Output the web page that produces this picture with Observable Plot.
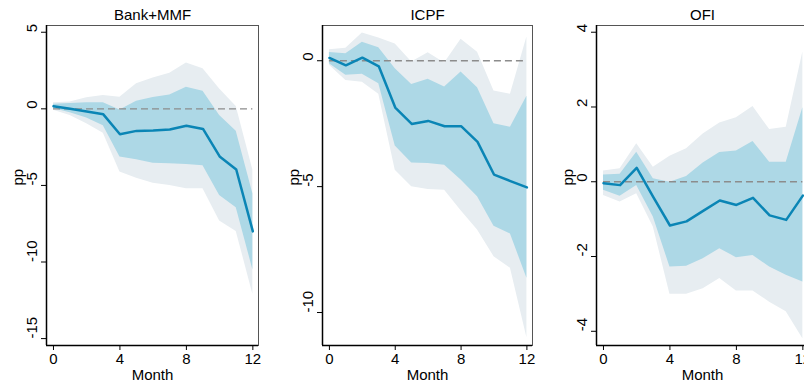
<!DOCTYPE html>
<html>
<head>
<meta charset="utf-8">
<script src="https://cdn.jsdelivr.net/npm/d3@7"></script>
<script src="https://cdn.jsdelivr.net/npm/@observablehq/plot@0.6"></script>
<style>
  html, body { margin: 0; padding: 0; background: #fff; }
  #wrap { position: relative; width: 804px; height: 387px; overflow: hidden; background: #fff; }
  .panel { position: absolute; top: 0; width: 275px; height: 387px; }
  .panel svg { max-width: none !important; display: block; }
</style>
</head>
<body>
<div id="wrap"></div>
<script>
// ---- data ----
const months = [0, 1, 2, 3, 4, 5, 6, 7, 8, 9, 10, 11, 12];
const xTicks = [0, 4, 8, 12];

const panelTitles = ["Bank+MMF", "ICPF", "OFI"];

// Bank+MMF
const bankIrf  = [0.17, 0.0, -0.18, -0.36, -1.66, -1.44, -1.41, -1.35, -1.11, -1.31, -3.11, -3.96, -8.0];
const bankHi68 = [0.3, 0.35, 0.4, 0.4, -0.08, 0.5, 0.74, 0.91, 1.41, 1.15, -0.44, -1.46, -5.55];
const bankLo68 = [0.02, -0.25, -0.6, -1.1, -3.15, -3.33, -3.55, -3.59, -3.63, -3.72, -5.66, -6.46, -10.5];
const bankHi90 = [0.4, 0.45, 0.72, 0.87, 0.76, 1.63, 2.02, 2.33, 3.0, 2.61, 1.3, 0.15, -4.0];
const bankLo90 = [-0.1, -0.44, -0.98, -1.6, -4.13, -4.53, -4.85, -5.0, -5.22, -5.22, -7.33, -8.0, -12.1];
const bankYTicks = [5, 0, -5, -10, -15];

// ICPF
const icpfIrf  = [0.11, -0.18, 0.12, -0.22, -1.86, -2.51, -2.39, -2.60, -2.60, -3.22, -4.52, -4.78, -5.03];
const icpfHi68 = [0.33, 0.28, 0.73, 0.52, -0.32, -0.94, -0.73, -1.04, -0.45, -1.07, -2.5, -2.64, -1.41];
const icpfLo68 = [-0.12, -0.58, -0.54, -0.91, -3.39, -4.06, -4.08, -4.15, -4.74, -5.4, -6.57, -6.88, -8.64];
const icpfHi90 = [0.44, 0.5, 1.1, 0.9, 0.67, -0.05, 0.32, -0.09, 0.85, 0.34, -1.2, -1.33, 0.94];
const icpfLo90 = [-0.18, -0.78, -0.85, -1.33, -4.35, -5.0, -5.11, -5.14, -5.96, -6.72, -7.78, -8.24, -11.0];
const icpfYTicks = [0, -5, -10];

// OFI
const ofiIrf  = [-0.04, -0.09, 0.37, -0.41, -1.17, -1.06, -0.78, -0.5, -0.62, -0.43, -0.9, -1.02, -0.37];
const ofiHi68 = [0.18, 0.2, 0.79, 0.08, -0.01, 0.14, 0.5, 0.78, 0.82, 1.08, 0.52, 0.52, 1.98];
const ofiLo68 = [-0.23, -0.39, -0.1, -0.94, -2.28, -2.26, -2.06, -1.79, -2.03, -1.97, -2.28, -2.5, -2.68];
const ofiHi90 = [0.29, 0.35, 1.02, 0.39, 0.68, 0.88, 1.28, 1.57, 1.71, 2.01, 1.4, 1.46, 3.47];
const ofiLo90 = [-0.37, -0.54, -0.32, -1.21, -3.01, -3.01, -2.86, -2.59, -2.92, -2.92, -3.22, -3.48, -4.2];
const ofiYTicks = [4, 2, 0, -2, -4];

// ---- drawing ----
const FONT = "'Liberation Sans', Arial, Helvetica, sans-serif";
const xDomain = [-0.42, 12.34];

const panels = [
  {title: panelTitles[0], irf: bankIrf, hi68: bankHi68, lo68: bankLo68, hi90: bankHi90, lo90: bankLo90,
   ticks: bankYTicks, yDomain: [-15.45, 5.44], left: 0, mL: 46, mR: 17},
  {title: panelTitles[1], irf: icpfIrf, hi68: icpfHi68, lo68: icpfLo68, hi90: icpfHi90, lo90: icpfLo90,
   ticks: icpfYTicks, yDomain: [-11.31, 1.40], left: 275, mL: 47, mR: 18},
  {title: panelTitles[2], irf: ofiIrf, hi68: ofiHi68, lo68: ofiLo68, hi90: ofiHi90, lo90: ofiLo90,
   ticks: ofiYTicks, yDomain: [-4.38, 4.18], left: 550, mL: 46, mR: 17}
];

const wrap = document.getElementById("wrap");

for (const p of panels) {
  const rows = months.map((m, i) => ({
    m, irf: p.irf[i], hi68: p.hi68[i], lo68: p.lo68[i], hi90: p.hi90[i], lo90: p.lo90[i]
  }));
  const chart = Plot.plot({
    width: 275,
    height: 387,
    marginTop: 25,
    marginBottom: 42,
    marginLeft: p.mL,
    marginRight: p.mR,
    style: {fontFamily: FONT, fontSize: "15px", color: "#000", background: "transparent", maxWidth: "none"},
    x: {domain: xDomain, axis: null},
    y: {domain: p.yDomain, axis: null},
    marks: [
      Plot.areaY(rows, {x: "m", y1: "lo90", y2: "hi90", fill: "#e7edf1"}),
      Plot.areaY(rows, {x: "m", y1: "lo68", y2: "hi68", fill: "#add8e6"}),
      Plot.ruleY([0], {x1: 0, x2: 12, stroke: "#8c8c8c", strokeWidth: 1.3, strokeDasharray: "7,4"}),
      Plot.lineY(rows, {x: "m", y: "irf", stroke: "#0a85b5", strokeWidth: 2.5}),
      Plot.frame({stroke: "#555", strokeWidth: 1}),
      Plot.ruleX([xDomain[0]], {stroke: "#000", strokeWidth: 1.5}),
      Plot.ruleY([p.yDomain[0]], {stroke: "#000", strokeWidth: 1.5}),
      Plot.axisX({ticks: xTicks, tickSize: 5, tickPadding: 3, tickFormat: d => String(d), label: null, stroke: "#000", fill: "#000", fontSize: 15}),
      Plot.axisY({ticks: p.ticks, tickSize: 5, tickFormat: () => "", label: null, stroke: "#000"}),
      Plot.text(p.ticks, {y: d => d, text: d => String(d), frameAnchor: "left", dx: -14, rotate: -90, lineAnchor: "middle", fontSize: 15, fill: "#000"}),
      Plot.text(["pp"], {frameAnchor: "left", dx: -28, rotate: -90, lineAnchor: "middle", fontSize: 15, fill: "#000"}),
      Plot.text(["Month"], {frameAnchor: "bottom", dy: 29.5, lineAnchor: "middle", fontSize: 15, fill: "#000"}),
      Plot.text([p.title], {frameAnchor: "top", dy: -10.7, lineAnchor: "middle", fontSize: 15, fill: "#000"})
    ]
  });
  const div = document.createElement("div");
  div.className = "panel";
  div.style.left = p.left + "px";
  div.appendChild(chart);
  wrap.appendChild(div);
}
</script>
</body>
</html>
